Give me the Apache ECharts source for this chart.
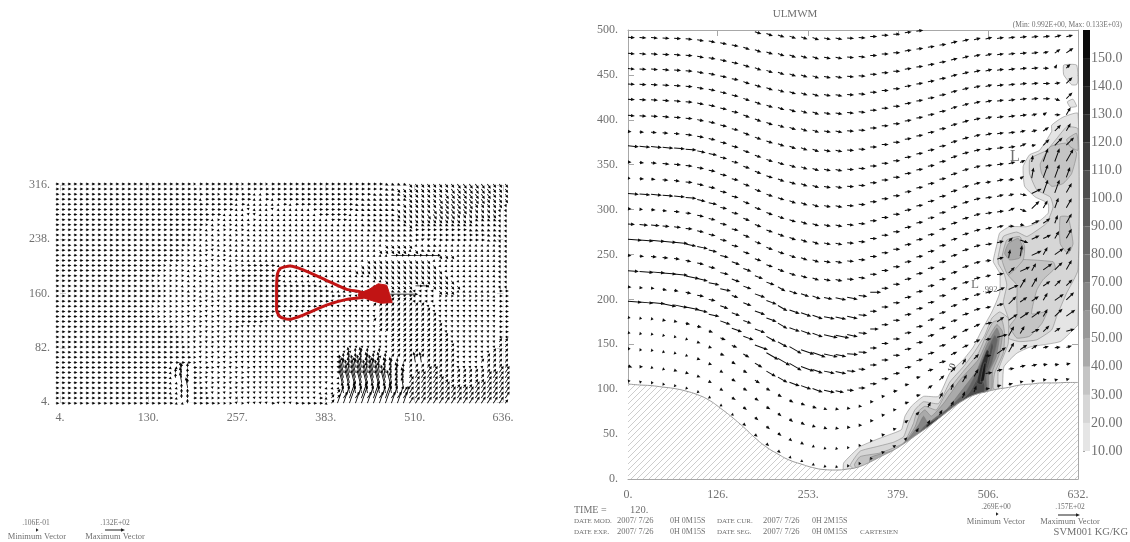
<!DOCTYPE html>
<html><head><meta charset="utf-8">
<script src="https://cdn.jsdelivr.net/npm/echarts@6/dist/echarts.min.js"></script>
<style>html,body{margin:0;padding:0;background:#fff}#c{width:1130px;height:542px;filter:blur(0.35px)}</style>
</head><body><div id="c"></div>
<script>
// ---------- tick labels ----------
const leftXTicks=[4,130,257,383,510,636];
const leftYTicks=[4,82,160,238,316];
const rightXTicks=[0,126,253,379,506,632];
const rightYTicks=[0,50,100,150,200,250,300,350,400,450,500];
const barTicks=[10,20,30,40,50,60,70,80,90,100,110,120,130,140,150];
const barLevels=[10,20,30,40,50,60,70,80,90,100,110,120,130,140,150];
const barColors=['#e5e5e5','#d6d6d6','#c4c4c4','#aaaaaa','#989898','#858585','#707070','#666666','#5a5a5a','#4e4e4e','#3e3e3e','#2e2e2e','#222222','#181818','#0a0a0a'];

// ---------- left panel: velocity codes (m/s) read row by row, top to bottom ----------
const leftCodes={'-':[2.4,0],'=':[5,0],'.':[1.3,0],',':[1.3,-1.1],"'":[1.3,1.1],d:[2.1,-1],u:[2.1,1],s:[1.9,-2.6],S:[2.3,-3.2],'/':[1.9,2.6],F:[2.9,4.4],n:[-.2,3],N:[-1.2,7],T:[-3,12],L:[4,11.5],w:[-2,.2],v:[.8,-2]};
const leftRows=[
"-------------------- ---.-------.---.---- ---------------dddds sssssssSSSSSSsss",
"-------------------- ----.------.-------- ---------------ddsss ssssssSSSSSSSsss",
"-------------------- -------.-----,,----- -------------dddddss sssssSSSSSSSSsss",
"-------------------- ----,-----,--,,-,--- -----------dddddddds ssssSSSSSSSSssss",
"-------------------- ----------,-,,,,,,-, ----------ddddddddss ssssSSSSSSsssssv",
"-------------------- -----.----,,',,,',,, ,,,-------dddddddsss sssSSSSSSsssssvv",
"-------------------- --------,,,,'',,,,,, ,,,,-----,,ddddddsss ssSSSSSsssssssvv",
"-------------------- ------,.,,,,,.,,,,,, ,,,,,,---,,,ddddddss ssssssssssddddvv",
"-------------------- -----.,.,.,,.,,,,,,, ,,,,,,,,,,,dddddddds ddddddddddddddvv",
"-------------------- ----.,.,..,.,,,,,,,, ,,,,,,,,,,,,dddddddd ---------dddddvv",
"-------------------- ---...,..,..,,,,,,,, ,,,,,,,,,,,,,,dddddd ------------ddvv",
"-------------------- ---..,.,..,,.,,,,,,, ,,,,,,,,,,,,,,,ddddd -uuu--------ddvv",
"-------------------- --..,..,.,,.,,,,,,,, ,,,,,,,,,,,,,,,sssss ,,dd,,,,,,,,,,vv",
"-------------------- -...,.'.,.,,,,,,,,,, ,,,,,,,,,,,,,,sssss, sdd,,,,,,,,,,,vv",
"-------------------- -....'.,.,,,,,,,,,,, ,,,,,,,,,,,,,,,,==== ====sss,,,,,,,vv",
"-------------------- -...,.'.',.,,,,,,,,, ,,,,,,,,,,,,ssssssss sss,,,,,,,,,,,vv",
"------------------.. ...,.,...,..-----,,, ,,,,,,,,,,,sssssssss ssss,,,,,,,,,,vv",
"------------------.. ..,.,..,...-------,, ,,,,,,,,,,ssssssssss sssss,,,,,,,,,vv",
"-----------------... ..,.,..,..--------,, ,,,,,,,,,,,,,sssssss ssssss,,,,,,,,vv",
"----------------.... ..,.,.,...--------,, ,,,,,,,,,,,,,,,sssss sssssss,,,,,,,vv",
"-----------------... .,.,..,...---------- ----,,,,,,,,,,,sssss ==,sssss,,,,,,vv",
"------------------.. ..,.,.,...---------- ------,,,,,,---ddddd wwwwsss,,,,,,,--",
"------------------.. ....,.,.,.---------- --------.'''''''uuuu wwww.........,--",
"-----------------... ...'.'.'..---------- ------'''''''/////// wwww''''''''''--",
"----------------.... ..'.'.''..---------- ----'''''''''/////// //''''''''''''--",
"----------------.... ...'.'.'.'--------'' ''''''''''''''////// ///'''''''''''--",
"-----------------... ..'..'.'..------'''' ''''''''''''''////// ////''''''''''--",
"------------------.. ...'.'.'..-----''''' '''''''''''''/////// ////''''''''''--",
"-------------------- ..'.'..'..-''''''''' ''''''''''''''////// /////'''''''''--",
"-------------------- ...'.'.'.''''''''''' ''''''''''''''////// /////'''''''''--",
"-------------------- -...'..'.''''''''''' ''''''''''''''''//// //////''''''''--",
"-------------------- -..'.'.''''''''''''' ''''''''''''''''//// //////''''''''//",
"-------------------- --..'.'.'.'''''''''' ''''''''''''''''//// ///////'''''''//",
"-------------------- --..'..'.'.''''''''' ''''''''''nnn'n'//// ///////''''''///",
"-------------------- ---.'.'.'.'''''''''' ''''''''nNnNnn'n//// ///////'''''////",
"-------------------- ---.'.'.'.'''''''''' ''''''''nNnNNnNnnn// NN/////''''/////",
"-------------------, ,nn-.-.'.'.'.''''''' ''''''''NNNNNNNNNnn/ ///////'''''////",
"-------------------, nNn-..'.'.'.'''''''' ''''''''TNTTNTNNNNn/ //FF//////////FF",
"-------------------, nNn-.'..'.'.'''''''' ''''''',TTTTTTTNNNN/ FFFF////////FFFF",
"-------------------, ,Nn-.'.'.'.''''''''' '''''',,TTTTTTTTNNNF FFFFF///////FFFF",
"-------------------, ,nN--.'.'.'.'''''''' ''''',,,TTTTTTTTTNNF FFFFFF////FFFFFF",
"-------------------, ,nn--.'.'.'''''''''' '''',,,/NNNNNNNNNNFF FFFFFFFFFFFFFFFF",
"-------------------- ,nn---...'.''''''''' ''''-,//FLFLFLFLFFFF FFFFFFFFFFFFFFFF",
"-------------------- ,,n----...'.''''-''' -----,/LLLLLLLLLLLLF FFFFFFFFFFFFFFF/"
];
const leftStreaks=[[475,159,18.5,0]];
const redLoop=[[313,170],[314,187],[318,196],[332,199.5],[351,194],[384,179],[413,166],[437,161],[437,155],[413,151.6],[384,143.4],[351,129],[330,122.8],[318,126.6],[313,136],[313,170]];
const redBlob=[[430,160],[445,166],[458,174],[470,172],[474,160],[478,147],[462,146],[445,151],[430,156]];

// ---------- right panel: terrain, level heights, wind direction and speed codes ----------
const terrainZ=[105.8,104.7,104,102.4,100.8,98,94,88,79,69,58,46,35.6,27.8,21,16.7,12.8,10.5,10,11,13.5,19,25.6,32,40,49,58,68,78,87,93.5,97,100,102,104.7,105.8,107,107,107.5,107.5];
const levelZ=[510,492,474,457,440,423,405,387,371,353,335,318,301,284,267,249,232,214,198,180,163,145,126,109];
const dirDeg={a:-40,b:-30,c:-20,d:-12,e:-5,f:0,g:8,h:15,i:25,j:35,k:45,l:60,m:70,n:80,o:95};
const speedMs={0:.6,1:1.5,2:2.5,3:3.3,4:4.2,5:5,6:6.2,7:7.8,8:10,9:13};
const B="eeeeeeddddcccccccddeefffgggghhh";
const windDir=[
B+"hggggghh",B+"hggggghh",B+"hgggghjj",B+"hggggflk",B+"hggggfgk",B+"hggggfck",
B+"hggghjfl",B+"hgghhjkl",B+"gggihkkk",B+"gghinmml",B+"ghgjnmmm",B+"ghhdimml",
B+"ggicklml",B+"hhfdijml",
"eeeeeddddccccbcccdddefffgggghhh"+"ghkciill",
"eeeeeddddccccbcccdddefffgggghhh"+"ghnniljl",
"eeeeeddddccccbcccdddefffgggghhh"+"hgkiljkl",
"eeedddddccccbbbccddeefffgghhhhh"+"hiilljkk",
"eeedddddccccbbbccddeefffgghhhhh"+"ghkjjljk",
"dddddddcccbbbbcccddefffgghhhiii"+"hjjjjlkj",
"dddddccccbbbbbbcccddefggghhhiii"+"ghllikjh",
"fedcccccbbbbbaabccdeffgghhjkklk"+"gjljjhgh",
"cfcccccbbbaaaaabbcdeffghjkllmll"+"ghghhggh",
"ghfeddcbbaaaaaabbcdefghjkllllmm"+"ghhhgghh"
];
const U="5555555555555555555555555555555";
const windSpeed=[
U+"55555555",U+"55555555",U+"55555456",U+"55555434",U+"55555546",U+"55555546",U+"55554346",
"2344455555555555555555555555555"+"55544566",
"7777776655555555555555555555555"+"55553677",
"2345555555555555555555555555555"+"55545888",
"1334455555555555555555555555555"+"45437887",
"7777776655555555555555555555555"+"55457887",
"2233445555555555555555555555555"+"55557677",
"5665555555555555555555555555555"+"55436667",
"8888877666666666667767555555555"+"55466667",
"2344445566677777777765555555555"+"45677676",
"7888887775677777788766555555555"+"45676777",
"2223345566677788887765555555555"+"56777666",
"8888887777788888777655555555555"+"45766677",
"1112233344567777776555555555555"+"56777677",
"1111112233343333322222233345555"+"47766656",
"1111112223333333222222223345555"+"47765444",
"3211222223333322111111223345566"+"54444333",
"1111111111222211111111222334455"+"33322222"
];

// ---------- right panel: SVM001 contour bands (x, z) ----------
const groundEdge=[[526,95],[500,90],[470,80],[454,72],[421,52],[405,44],[389,35],[373,27],[356,20],[340,15],[324,8],[303,8]];
const band10=[[303,18],[326,36],[349,44],[366,49],[384,55],[389,70],[398,81],[415,92],[436,92],[452,118],[471,133],[485,147],[497,166],[511,186],[522,207],[522,229],[513,242],[515,251],[518,261],[522,274],[536,281],[560,281],[574,285],[590,296],[590,307],[572,314],[557,326],[555,348],[564,361],[578,366],[595,387],[595,394],[611,403],[632,407],[632,172],[625,166],[607,153],[565,147],[546,140],[528,125],[526,99]];
const band10b=[[612,461],[630,461],[632,444],[630,439],[623,439],[612,450]];
const band10c=[[617,420],[625,423],[630,415],[621,414]];
const band20=[[527,196],[532,216],[528,229],[520,240],[520,248],[527,270],[546,275],[560,270],[569,274],[588,285],[597,303],[593,314],[574,322],[564,340],[564,355],[569,359],[588,366],[600,377],[616,392],[632,390],[632,233],[616,207],[602,181],[595,166],[574,155],[550,153],[534,157],[534,179]];
const band20b=[[312,15],[326,31],[349,36],[373,41],[387,47],[394,62],[403,77],[415,86],[436,84],[452,108],[471,125],[487,142],[501,160],[511,179],[522,186],[534,179],[534,151],[527,136],[520,121],[520,101]];
const band30a=[[579,351],[593,370],[616,374],[630,363],[623,340],[611,329],[595,326],[581,340]];
const band30b=[[616,378],[630,385],[632,366],[621,370]];
const band30c=[[607,292],[618,292],[625,262],[618,251],[607,262]];
const band30d=[[534,244],[597,242],[600,235],[583,222],[574,210],[567,184],[588,186],[581,173],[564,159],[546,157],[536,170],[546,181],[546,199],[546,216],[534,227]];
const band30e=[[532,266],[550,270],[557,259],[555,244],[534,227],[525,245]];
const band30f=[[318,16],[326,25],[354,29],[387,40],[401,62],[405,73],[417,81],[433,77],[447,96],[471,120],[492,140],[504,162],[513,175],[525,177],[529,162],[527,140],[515,118],[513,101]];
const band40a=[[534,262],[548,268],[555,257],[550,246],[536,244],[529,251]];
const band40b=[[340,24],[373,32],[387,39],[403,58],[409,71],[417,77],[426,70],[443,84],[466,110],[492,133],[506,157],[518,172],[526,164],[522,140],[512,120],[511,101]];
const band60=[[382,35],[396,47],[408,60],[415,70],[422,62],[447,77],[471,101],[490,121],[504,149],[518,168],[522,160],[517,136],[507,118],[506,101]];
const band80=[[403,45],[415,58],[431,68],[450,79],[476,99],[492,123],[506,146],[515,160],[519,155],[511,129],[503,114],[504,103]];
const band100=[[415,53],[433,66],[452,75],[480,97],[494,118],[506,136],[511,153],[513,147],[506,125],[499,110],[501,104]];
const band120a=[[419,60],[431,66],[445,73],[454,78],[454,72],[421,52]];
const band120b=[[490,107],[495,125],[504,144],[507,142],[503,121],[497,105]];
const band140a=[[426,62],[443,70],[448,74],[448,68],[426,55]];
const band140b=[[495,108],[500,129],[503,129],[500,110]];
const contours=[
 [10,band10,303],[10,band10b],[10,band10c],
 [20,band20],[20,band20b,312],
 [30,band30a],[30,band30b],[30,band30c],[30,band30d],[30,band30e],[30,band30f,318],
 [40,band40a],[40,band40b,340],
 [60,band60,373],[80,band80,405],[100,band100,421],[120,band120a],[120,band120b],[140,band140a],[140,band140b]
];

// ---------- key values ----------
const leftKey={min:'.106E-01',max:'.132E+02',minV:.0106,maxV:13.2};
const rightKey={min:'.269E+00',max:'.157E+02',minV:.269,maxV:15.7};

// ---------- building ----------
const leftScale=20/leftKey.maxV, rightScale=22/rightKey.maxV;
const leftData=[];
leftRows.forEach((row,r)=>{[...row.replace(/ /g,'')].forEach((c,i)=>{
  const v=leftCodes[c]; leftData.push([-2+i*8.55,317.5-r*7.33,v[0],v[1]]);
});});
leftStreaks.forEach(s=>leftData.push(s));

const rightData=[];
windDir.forEach((row,k)=>{[...row].forEach((c,i)=>{
  const t=terrainZ[i], t0=terrainZ[0], H=610;
  const z=t+(levelZ[k]-t0)*(1-t/H)/(1-t0/H);
  if(z>500) return;
  const s=speedMs[windSpeed[k][i]], a=dirDeg[c]*Math.PI/180;
  rightData.push([i*16.2,z,s*Math.cos(a),s*Math.sin(a)]);
});});

const terrainLine=terrainZ.map((z,i)=>[Math.min(i*16.2,632),z]);

function arrowPts(x,y,dx,dy,hlen,hwid,shaft){
  const L=Math.hypot(dx,dy)||1, ux=dx/L, uy=dy/L, nx=-uy, ny=ux;
  const full=Math.max(L,2.6), hl=Math.min(hlen,full), hw=hwid, w=shaft/2;
  const tip=[x+ux*full,y+uy*full];
  const nk=[tip[0]-ux*hl,tip[1]-uy*hl];
  if(L<=hl) return [[nk[0]+nx*hw,nk[1]+ny*hw],tip,[nk[0]-nx*hw,nk[1]-ny*hw]];
  return [[x+nx*w,y+ny*w],[nk[0]+nx*w,nk[1]+ny*w],[nk[0]+nx*hw,nk[1]+ny*hw],tip,[nk[0]-nx*hw,nk[1]-ny*hw],[nk[0]-nx*w,nk[1]-ny*w],[x-nx*w,y-ny*w]];
}
function arrowRender(scale,hl,hw,sh,fill){return (p,api)=>{
  const c=api.coord([api.value(0),api.value(1)]);
  return {type:'polygon',silent:true,shape:{points:arrowPts(c[0],c[1],api.value(2)*scale,-api.value(3)*scale,hl,hw,sh)},style:{fill}};
};}
function hatch(){
  const t=document.createElement('canvas');t.width=6;t.height=6;
  const g=t.getContext('2d');g.fillStyle='#fff';g.fillRect(0,0,6,6);
  g.strokeStyle='#b8b8b8';g.lineWidth=.7;
  [[-6,6,6,-6],[0,6,6,0],[0,12,12,0]].forEach(s=>{g.beginPath();g.moveTo(s[0],s[1]);g.lineTo(s[2],s[3]);g.stroke();});
  return t;
}
const SERIF="'Liberation Serif'";
const TXT='#707070', LINE='#a8a8a8';
function axisCommon(ticks,opts){
  return Object.assign({type:'value',axisLine:{show:true,onZero:false,lineStyle:{color:LINE,width:1}},
    axisTick:{show:true,inside:true,length:6,customValues:ticks,lineStyle:{color:LINE}},
    splitLine:{show:false},
    axisLabel:{show:true,customValues:ticks,color:TXT,fontFamily:SERIF,fontSize:12,margin:10,formatter:v=>v+'.'}},opts);
}
function hiddenLabel(a){a.axisLabel={show:false};return a;}
function faint(a){a.axisLine.lineStyle.color='#f2f2f2';a.axisTick.lineStyle.color='#cfcfcf';return a;}

const texts=[
 ['ULMWM',795,14,'center',11],
 ['(Min: 0.992E+00, Max: 0.133E+03)',1122,25,'right',7.5],
 ['TIME =',574,510,'left',10],['120.',630,510,'left',10.5],
 ['DATE MOD.',574,521,'left',7],['2007/ 7/26',617,521,'left',8.5],['0H 0M15S',670,521,'left',8],['DATE CUR.',717,521,'left',7],['2007/ 7/26',763,521,'left',8.5],['0H 2M15S',812,521,'left',8],
 ['DATE EXP..',574,532,'left',7],['2007/ 7/26',617,532,'left',8.5],['0H 0M15S',670,532,'left',8],['DATE SEG.',717,532,'left',7],['2007/ 7/26',763,532,'left',8.5],['0H 0M15S',812,532,'left',8],['CARTESIEN',860,532,'left',7],
 [rightKey.min,996,507,'center',7.5],['Minimum Vector',996,522,'center',8.5],
 [rightKey.max,1070,507,'center',7.5],['Maximum Vector',1070,522,'center',8.5],
 ['SVM001 KG/KG',1128,532,'right',10.5],
 [leftKey.min,36,523,'center',7.5],['Minimum Vector',37,537,'center',8.5],
 [leftKey.max,115,523,'center',7.5],['Maximum Vector',115,537,'center',8.5],
 ['L',1015,157,'center',16],['.992',1032,162,'center',8.5],
 ['L',975,285,'center',13],['.992',990,290,'center',8.5]
];
const rotated=[['30',1036,323,1.4],['10',952,368,1.25],['30',957,375,1.25],['301',1003,265,-1.7]];
const keyArrows=[[36,530,2.6,0],[105,530,20,0],[996,514,2.6,0],[1058,515,22,0]];
const graphic=[];
texts.forEach(t=>graphic.push({type:'text',silent:true,style:{text:t[0],x:t[1],y:t[2],align:t[3],verticalAlign:'middle',font:t[4]+"px "+SERIF,fill:TXT}}));
rotated.forEach(t=>graphic.push({type:'text',silent:true,x:t[1],y:t[2],rotation:t[3],style:{text:t[0],x:0,y:0,align:'center',verticalAlign:'middle',font:'9px '+SERIF,fill:'#444'}}));
keyArrows.forEach(a=>graphic.push({type:'polygon',silent:true,shape:{points:arrowPts(a[0],a[1],a[2],a[3],4,1.8,1)},style:{fill:'#222'}}));

const option={
 animation:false,
 graphic:{elements:graphic},
 grid:[
  {left:60,top:185,width:443,height:217},
  {left:628,top:30,width:450,height:449},
  {left:1083,top:30,width:7,height:421}
 ],
 xAxis:[
  faint(axisCommon(leftXTicks,{gridIndex:0,min:4,max:636,position:'bottom'})),
  faint(hiddenLabel(axisCommon(leftXTicks,{gridIndex:0,min:4,max:636,position:'top'}))),
  axisCommon(rightXTicks,{gridIndex:1,min:0,max:632,position:'bottom'}),
  hiddenLabel(axisCommon(rightXTicks,{gridIndex:1,min:0,max:632,position:'top'})),
  {type:'value',gridIndex:2,min:0,max:1,show:false}
 ],
 yAxis:[
  faint(axisCommon(leftYTicks,{gridIndex:0,min:4,max:316,position:'left'})),
  faint(hiddenLabel(axisCommon(leftYTicks,{gridIndex:0,min:4,max:316,position:'right'}))),
  axisCommon(rightYTicks,{gridIndex:1,min:0,max:500,position:'left'}),
  hiddenLabel(axisCommon(rightYTicks,{gridIndex:1,min:0,max:500,position:'right'})),
  {type:'value',gridIndex:2,min:10,max:160,position:'right',
   axisLine:{show:false},splitLine:{show:false},
   axisTick:{show:true,length:2,customValues:barTicks,lineStyle:{color:LINE}},
   axisLabel:{show:true,customValues:barTicks,margin:1,color:TXT,fontFamily:SERIF,fontSize:14,formatter:v=>v>=100?v.toFixed(1):v.toFixed(2)}}
 ],
 series:[
  {type:'custom',name:'leftField',xAxisIndex:0,yAxisIndex:0,z:3,progressive:0,silent:true,
   encode:{x:0,y:1},data:leftData,renderItem:arrowRender(leftScale,3,1.5,.85,'#050505')},
  {type:'line',name:'redLoop',xAxisIndex:0,yAxisIndex:0,z:5,data:redLoop,showSymbol:false,smooth:.2,silent:true,
   lineStyle:{color:'#c11414',width:3}},
  {type:'custom',name:'redBlob',xAxisIndex:0,yAxisIndex:0,z:5,silent:true,data:[[0]],
   renderItem:(p,api)=>({type:'polygon',shape:{points:redBlob.map(q=>api.coord(q))},style:{fill:'#c11414',stroke:'#c11414',lineWidth:1}})},
  {type:'custom',name:'contours',xAxisIndex:2,yAxisIndex:2,z:1,silent:true,progressive:0,
   data:contours.map((c,i)=>[i]),
   renderItem:(p,api)=>{
     const c=contours[p.dataIndex];
     let pts=c[1];
     if(c[2]!==undefined){
       const maxX=Math.max(...c[1].map(q=>q[0]));
       pts=pts.concat(groundEdge.filter(q=>q[0]<maxX&&q[0]>=c[2]));
     }
     return {type:'polygon',shape:{points:pts.map(q=>api.coord(q)),smooth:.15},
       style:{fill:barColors[barLevels.indexOf(c[0])],stroke:'#777',lineWidth:.5}};
   }},
  {type:'line',name:'terrain',xAxisIndex:2,yAxisIndex:2,z:2,data:terrainLine,showSymbol:false,smooth:.5,silent:true,
   lineStyle:{color:'#9a9a9a',width:1},areaStyle:{opacity:1,color:{image:hatch(),repeat:'repeat'}}},
  {type:'custom',name:'rightField',xAxisIndex:2,yAxisIndex:2,z:3,progressive:0,silent:true,
   encode:{x:0,y:1},data:rightData,renderItem:arrowRender(rightScale,4,1.7,1,'#0c0c0c')},
  {type:'custom',name:'colorbar',xAxisIndex:4,yAxisIndex:4,z:1,silent:true,
   data:barLevels.map(v=>[v]),
   renderItem:(p,api)=>{
     const lo=barLevels[p.dataIndex],a=api.coord([0,lo]),b=api.coord([1,lo+10]);
     return {type:'rect',shape:{x:a[0],y:b[1],width:b[0]-a[0],height:a[1]-b[1]},style:{fill:barColors[p.dataIndex]}};
   }}
 ]
};
const chart=echarts.init(document.getElementById('c'),null,{renderer:'canvas'});
chart.setOption(option);
</script></body></html>
